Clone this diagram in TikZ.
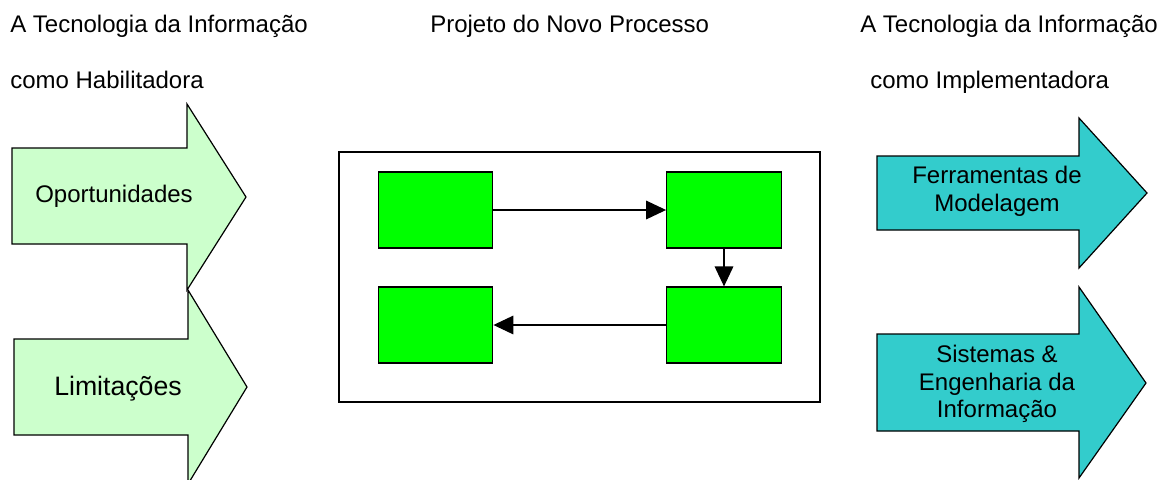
\documentclass[tikz,border=0pt]{standalone}
\usepackage{fontspec}
\setmainfont{Liberation Sans}
\usetikzlibrary{arrows.meta}
\definecolor{palegreen}{HTML}{CCFFCC}
\definecolor{tealfill}{HTML}{33CCCC}
\definecolor{boxgreen}{HTML}{00FF00}
\tikzset{
	heading/.style = {anchor = base west, inner sep = 0, font = \fontsize{18}{21}\selectfont},
	blockarrow/.style = {draw, line width = 0.9pt, line join = miter},
	arrowtext/.style = {align = center, inner sep = 0, font = \fontsize{18}{20.7}\selectfont},
	procbox/.style = {draw, fill = boxgreen, line width = 0.9pt, minimum width = 86pt, minimum height = 57pt, inner sep = 0},
	flow/.style = {line width = 0.9pt, -{Triangle[length = 15pt, width = 14pt]}}
}
\begin{document}
\begin{tikzpicture}[x = 0.75pt, y = -0.75pt]
		\useasboundingbox (0, 0) rectangle (1171, 479);
		% headings
		\node[heading] (hleft) at (10, 32.5) {A Tecnologia da Informação};
		\node[heading] (hleftb) at (10, 88) {como Habilitadora};
		\node[heading] (hmid) at (430, 32.5) {Projeto do Novo Processo};
		\node[heading] (hright) at (860, 32.5) {A Tecnologia da Informação};
		\node[heading] (hrightb) at (870, 88) {como Implementadora};
		% left arrows
		\draw[blockarrow, fill = palegreen] (12, 148) -- (187, 148) -- (187, 104) -- (246, 197) -- (187, 290) -- (187, 244) -- (12, 244) -- cycle;
		\draw[blockarrow, fill = palegreen] (14, 339) -- (188, 339) -- (188, 290) -- (247, 387) -- (188, 484) -- (188, 435) -- (14, 435) -- cycle;
		\node[arrowtext] (oport) at (114, 196) {Oportunidades};
		\node[arrowtext, font = \fontsize{20}{23}\selectfont] (limit) at (118, 389) {Limitações};
		% right arrows
		\draw[blockarrow, fill = tealfill] (877, 156) -- (1079, 156) -- (1079, 118) -- (1147, 193) -- (1079, 268) -- (1079, 230) -- (877, 230) -- cycle;
		\draw[blockarrow, fill = tealfill] (877, 334) -- (1079, 334) -- (1079, 287) -- (1146, 383) -- (1079, 478) -- (1079, 431) -- (877, 431) -- cycle;
		\node[arrowtext] (ferr) at (997, 191) {Ferramentas de\\Modelagem};
		\node[arrowtext] (sist) at (997, 384) {Sistemas \&\\Engenharia da\\Informação};
		% process frame
		\draw[line width = 0.9pt] (339, 152) rectangle (820, 402);
		\node[procbox] (tl) at (435.5, 210) {};
		\node[procbox] (tr) at (724, 210) {};
		\node[procbox] (bl) at (435.5, 325) {};
		\node[procbox] (br) at (724, 325) {};
		% flow
		\draw[flow] (tl) -- (tr);
		\draw[flow] (tr) -- (br);
		\draw[flow] (br) -- (bl);
	\end{tikzpicture}
\end{document}
